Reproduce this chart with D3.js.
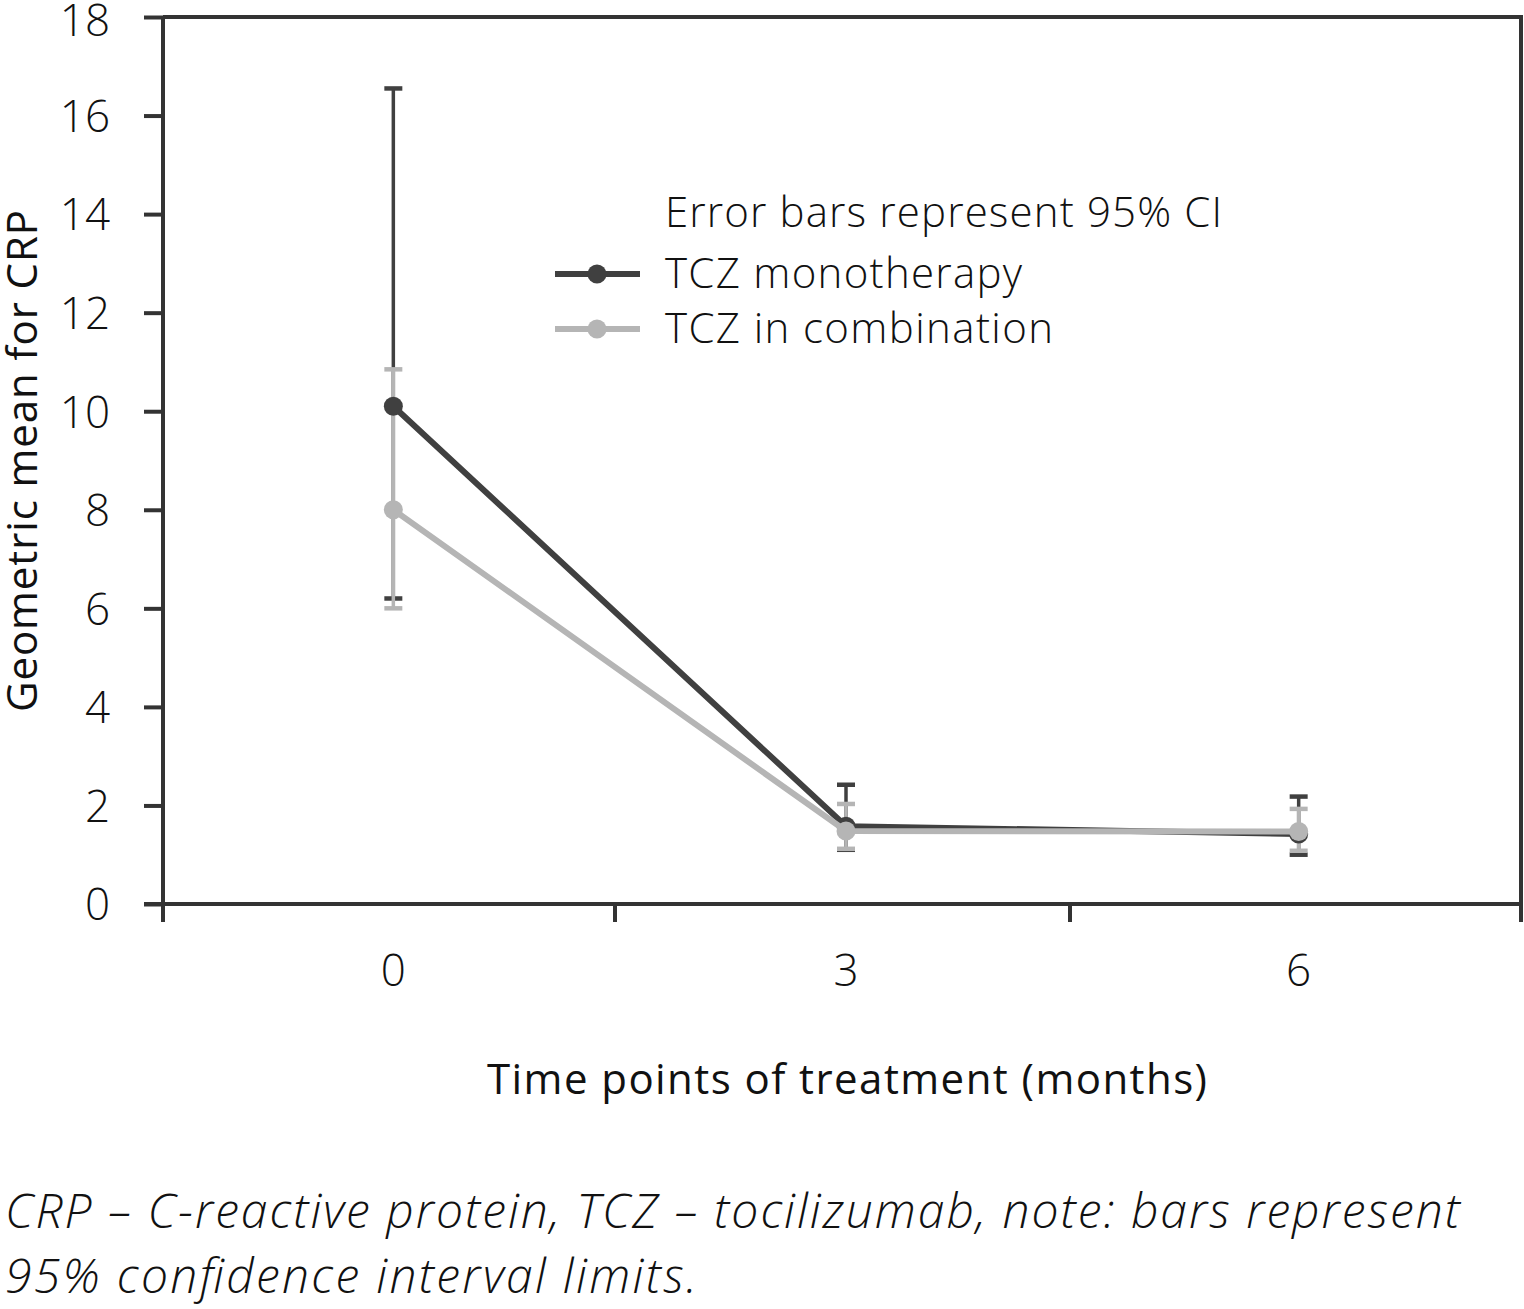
<!DOCTYPE html>
<html>
<head>
<meta charset="utf-8">
<script src="https://cdn.jsdelivr.net/npm/d3@7"></script>
<style>
  body { margin: 0; background: #fff; }
  text { font-family: "Open Sans", "Noto Sans", sans-serif; }
</style>
</head>
<body>
<svg></svg>
<script>
const width = 1524;
const height = 1309;

// data
const months = [0, 3, 6];
const series_names = ["TCZ monotherapy", "TCZ in combination"];
const mono_mean = [10.1, 1.58, 1.42];
const mono_lo = [6.2, 1.1, 1.0];
const mono_hi = [16.55, 2.42, 2.18];
const comb_mean = [8.0, 1.48, 1.47];
const comb_lo = [6.0, 1.12, 1.08];
const comb_hi = [10.85, 2.03, 1.93];
const y_ticks = [0, 2, 4, 6, 8, 10, 12, 14, 16, 18];

const colors = {mono: "#404040", comb: "#b5b5b5", axis: "#333333"};

const series = [
    {name: series_names[0], mean: mono_mean, lo: mono_lo, hi: mono_hi, color: colors.mono, len: 357},
    {name: series_names[1], mean: comb_mean, lo: comb_lo, hi: comb_hi, color: colors.comb, len: 388}
];

const plot = {left: 163, right: 1521, top: 17, bottom: 904};

let svg = d3.select('svg').attr('width', width).attr('height', height);

let x = d3.scaleBand().domain(months).range([plot.left + 4, plot.right + 4]);
let y = d3.scaleLinear().domain([0, 18]).range([plot.bottom, plot.top]);
let cx = m => x(m) + x.bandwidth() / 2;

// frame (top and right sides)
svg.append('path')
    .attr('d', `M${plot.left},${plot.top} H${plot.right} V${plot.bottom + 18}`)
    .attr('fill', 'none').attr('stroke', colors.axis).attr('stroke-width', 4);

// y axis
let yAxis = svg.append('g')
    .attr('transform', `translate(${plot.left},0)`)
    .call(d3.axisLeft(y).tickValues(y_ticks).tickSize(19).tickPadding(34));
yAxis.select('.domain').remove();
yAxis.append('line').attr('x1', 0).attr('x2', 0).attr('y1', plot.top).attr('y2', plot.bottom + 18)
    .attr('stroke', colors.axis).attr('stroke-width', 4);
yAxis.selectAll('.tick line').attr('stroke', colors.axis).attr('stroke-width', 4);
yAxis.selectAll('.tick text')
    .attr('font-size', 44).attr('font-weight', 300).attr('fill', '#111')
    .attr('dy', d => d === 18 ? '0.42em' : '0.36em')
    .attr('font-family', '"Open Sans", sans-serif');

// x axis: ticks at band boundaries, labels centred in bands
let xg = svg.append('g').attr('transform', `translate(0,${plot.bottom})`);
xg.append('line').attr('x1', plot.left - 19).attr('x2', plot.right)
    .attr('stroke', colors.axis).attr('stroke-width', 4);
let edges = [plot.left, 615, 1070, plot.right];
xg.selectAll('line.tk').data(edges).enter().append('line')
    .attr('class', 'tk')
    .attr('x1', d => d).attr('x2', d => d).attr('y1', 0).attr('y2', 18)
    .attr('stroke', colors.axis).attr('stroke-width', 4);
xg.selectAll('text').data(months).enter().append('text')
    .attr('x', d => cx(d)).attr('y', 82)
    .attr('text-anchor', 'middle')
    .attr('font-size', 44).attr('font-weight', 300).attr('fill', '#111')
    .text(d => d);

// axis titles
svg.append('text')
    .attr('transform', `translate(37,461) rotate(-90)`)
    .attr('text-anchor', 'middle')
    .attr('font-size', 42).attr('font-weight', 400).attr('fill', '#111')
    .attr('textLength', 502).attr('lengthAdjust', 'spacing')
    .text('Geometric mean for CRP');
svg.append('text')
    .attr('x', 847).attr('y', 1094)
    .attr('text-anchor', 'middle')
    .attr('font-size', 42).attr('font-weight', 400).attr('fill', '#111')
    .attr('textLength', 720).attr('lengthAdjust', 'spacing')
    .text('Time points of treatment (months)');

// error bars
let capW = 9;
series.forEach(s => {
    let g = svg.append('g').attr('stroke', s.color).attr('stroke-width', 3.5);
    months.forEach((m, i) => {
        g.append('line').attr('x1', cx(m)).attr('x2', cx(m))
            .attr('y1', y(s.lo[i])).attr('y2', y(s.hi[i]));
        [s.lo[i], s.hi[i]].forEach(v => {
            g.append('line').attr('x1', cx(m) - capW).attr('x2', cx(m) + capW)
                .attr('y1', y(v)).attr('y2', y(v)).attr('stroke-width', 4.5);
        });
    });
});

// lines and points
let line = d3.line().x((d, i) => cx(months[i])).y(d => y(d));
series.forEach(s => {
    svg.append('path').datum(s.mean)
        .attr('d', line).attr('fill', 'none')
        .attr('stroke', s.color).attr('stroke-width', 6);
    svg.selectAll(null).data(s.mean).enter().append('circle')
        .attr('cx', (d, i) => cx(months[i])).attr('cy', d => y(d))
        .attr('r', 9.5).attr('fill', s.color);
});

// legend
let lg = svg.append('g');
lg.append('text').attr('x', 665).attr('y', 227)
    .attr('font-size', 42).attr('font-weight', 300).attr('fill', '#111')
    .attr('textLength', 557).attr('lengthAdjust', 'spacing')
    .text('Error bars represent 95% CI');
series.forEach((s, i) => {
    let ly = 274 + i * 55;
    lg.append('line').attr('x1', 555).attr('x2', 640).attr('y1', ly).attr('y2', ly)
        .attr('stroke', s.color).attr('stroke-width', 6);
    lg.append('circle').attr('cx', 597).attr('cy', ly).attr('r', 9.5).attr('fill', s.color);
    lg.append('text').attr('x', 665).attr('y', ly + 14)
        .attr('font-size', 42).attr('font-weight', 300).attr('fill', '#111')
        .attr('textLength', s.len).attr('lengthAdjust', 'spacing')
        .text(s.name);
});

// caption
let cap = svg.append('text')
    .attr('font-size', 48).attr('font-weight', 300).attr('font-style', 'italic').attr('fill', '#111');
cap.append('tspan').attr('x', 5).attr('y', 1228)
    .attr('textLength', 1455).attr('lengthAdjust', 'spacing')
    .text('CRP – C-reactive protein, TCZ – tocilizumab, note: bars represent');
cap.append('tspan').attr('x', 5).attr('y', 1293)
    .attr('textLength', 692).attr('lengthAdjust', 'spacing')
    .text('95% confidence interval limits.');
</script>
</body>
</html>
